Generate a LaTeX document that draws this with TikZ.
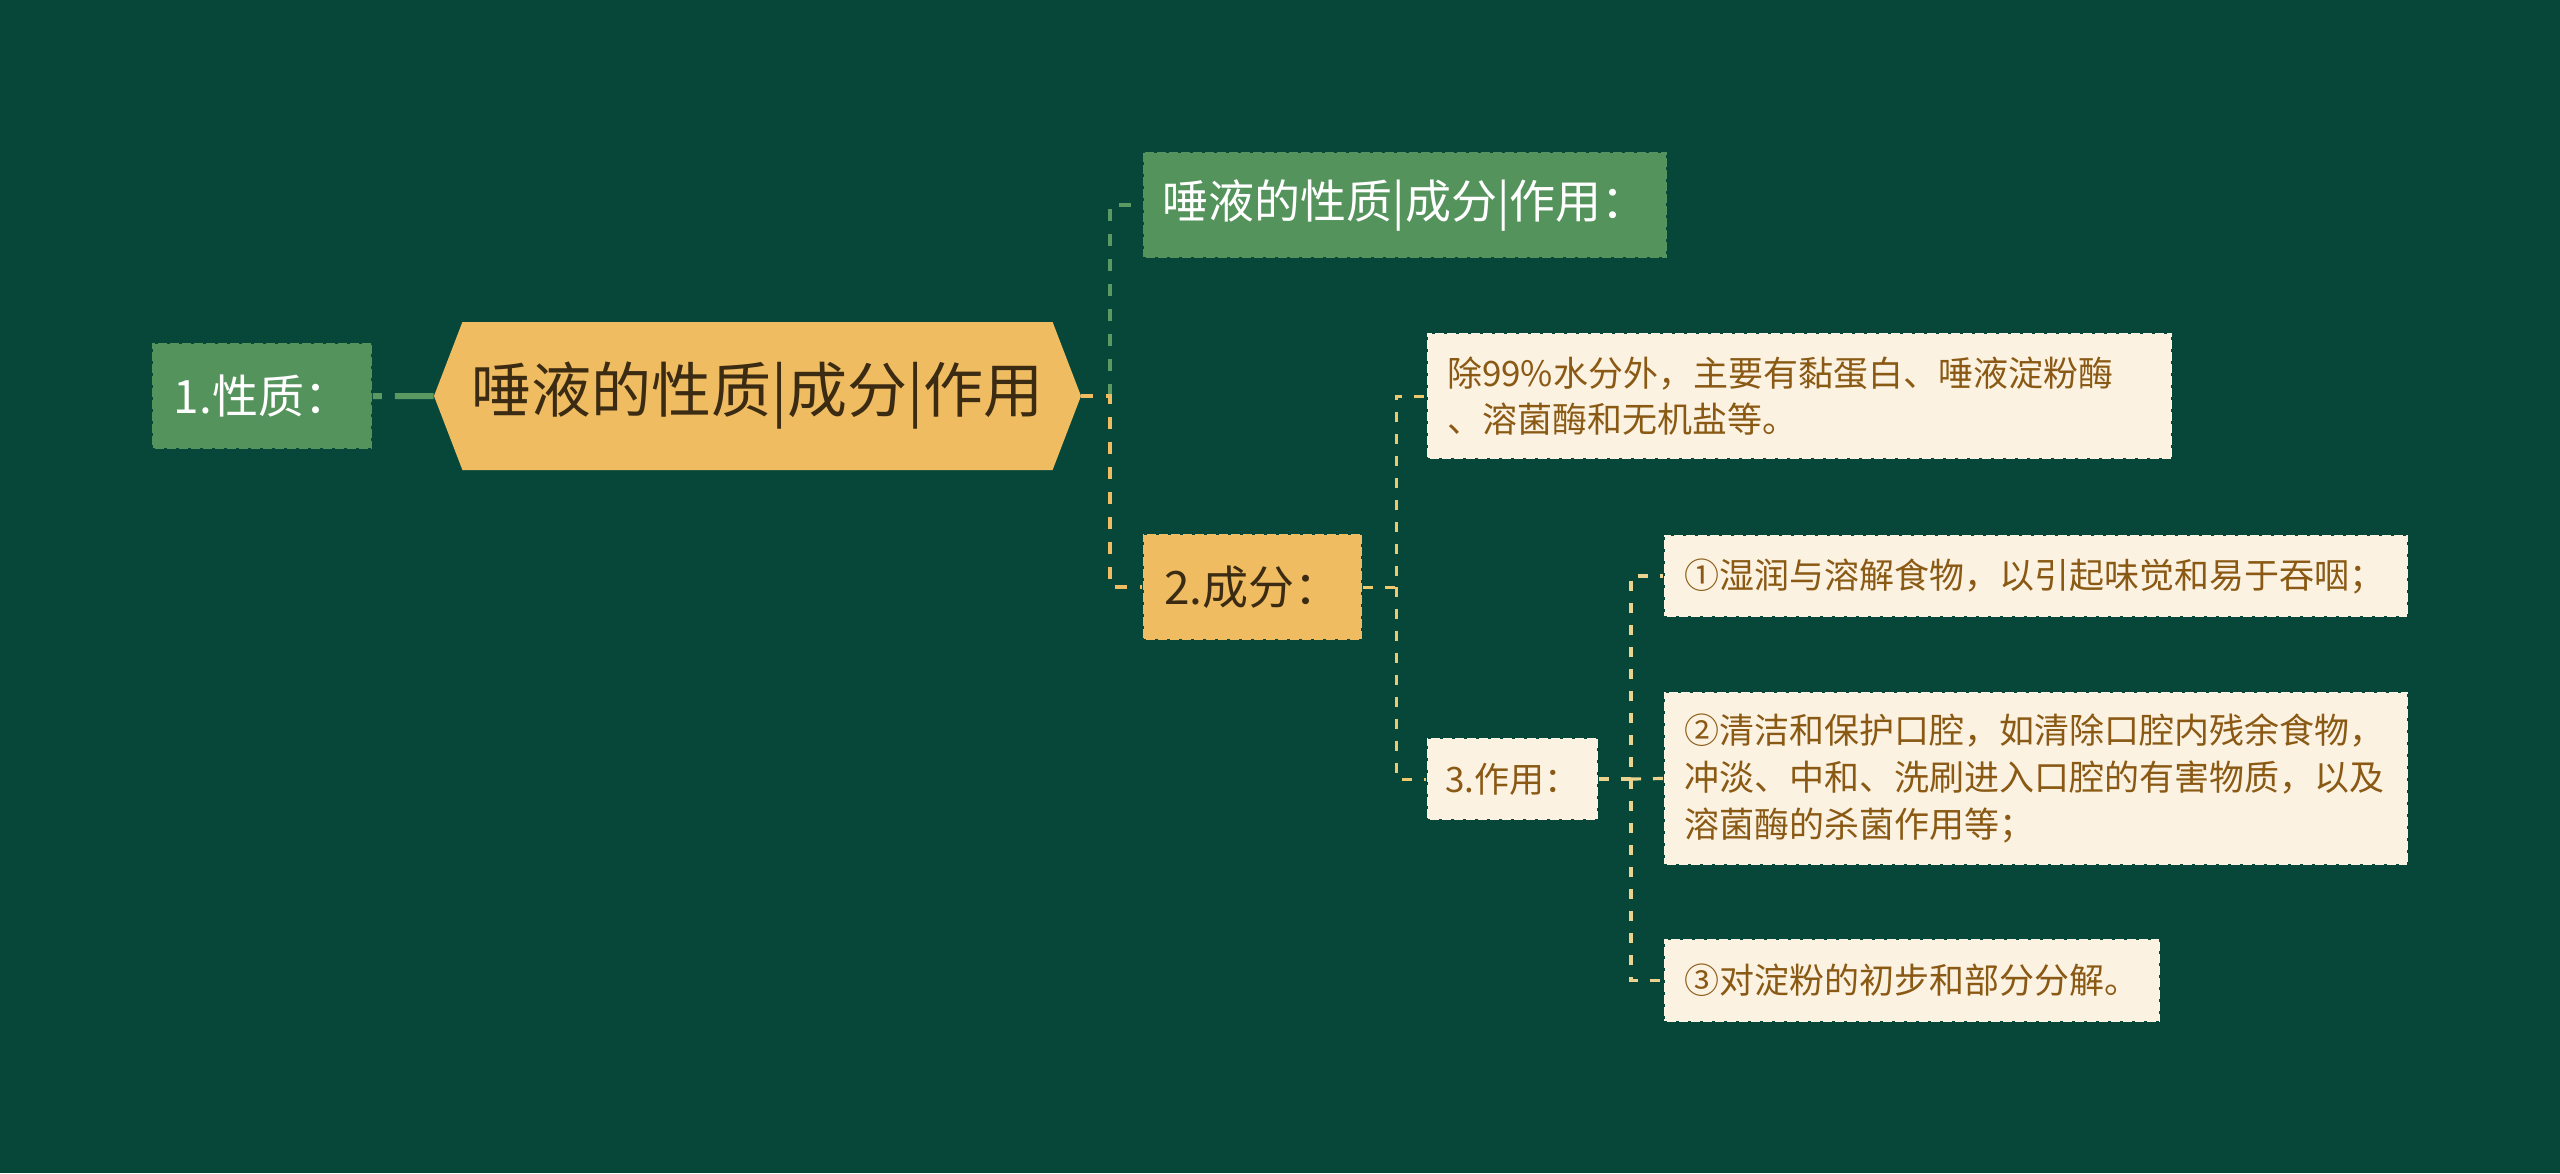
\documentclass[tikz,border=0pt]{standalone}
\usepackage{fontspec}
\newfontfamily\cjk{Noto Sans CJK SC}
\usetikzlibrary{shapes.symbols}

\definecolor{bgc}{HTML}{07473A}
\definecolor{greenc}{HTML}{55935D}
\definecolor{orangec}{HTML}{F0BC62}
\definecolor{creamc}{HTML}{FCF2E2}
\definecolor{brownc}{HTML}{8A5A15}
\definecolor{darkc}{HTML}{3B2B12}
\definecolor{glinec}{HTML}{5A9A62}
\definecolor{ylinec}{HTML}{EDC86F}
\definecolor{plinec}{HTML}{EAD38E}

\begin{document}
\begin{tikzpicture}[
    x=0.5pt, y=-0.5pt,
    edge/.style={draw=bgc, line width=0.8pt, dash pattern=on 1.5pt off 4.5pt},
    greenbox/.style={rectangle, edge, fill=greenc, text=white, inner sep=0pt,
        font=\cjk\fontsize{23}{28}\selectfont},
    orangebox/.style={rectangle, edge, fill=orangec, text=darkc, inner sep=0pt,
        font=\cjk\fontsize{23}{28}\selectfont},
    creambox/.style={rectangle, edge, fill=creamc, text=brownc, align=left,
        inner xsep=10pt, inner ysep=0pt, font=\cjk\fontsize{17.5}{23.3}\selectfont},
    hexbox/.style={shape=signal, signal to=east and west, signal pointer angle=138,
        fill=orangec, text=darkc, inner sep=0pt, font=\cjk\fontsize{30}{36}\selectfont},
    gline/.style={draw=glinec, line width=2.3pt, dash pattern=on 6pt off 6.5pt},
    oline/.style={draw=orangec, line width=2.3pt, dash pattern=on 6pt off 6.5pt},
    yline/.style={draw=ylinec, line width=1.5pt, dash pattern=on 5pt off 6pt},
    pline/.style={draw=plinec, line width=1.6pt, dash pattern=on 5pt off 6pt}
]
% Fondo
\fill[bgc] (0,0) rectangle (2560,1173);
\useasboundingbox (0,0) rectangle (2560,1173);

% Nodo central
\node[hexbox, minimum width=323.5pt, minimum height=74pt] (main) at (757.5,396) {唾液的性质|成分|作用};

% Nivel 1
\node[greenbox, minimum width=110pt, minimum height=53pt] (prop) at (262,396) {1.性质：};
\node[greenbox, minimum width=262pt, minimum height=53pt] (title) at (1405,205) {唾液的性质|成分|作用：};
\node[orangebox, minimum width=109.5pt, minimum height=53pt] (comp) at (1252.5,587) {2.成分：};

% Nivel 2
\node[creambox, text width=352.5pt, minimum height=63pt] (desc) at (1799.5,396)
    {除99\%水分外，主要有黏蛋白、唾液淀粉酶\\、溶菌酶和无机盐等。};
\node[creambox, align=center, inner xsep=0pt, minimum width=85.5pt, minimum height=41pt] (func) at (1512.5,779) {3.作用：};

% Nivel 3
\node[creambox, text width=352pt, minimum height=41pt] (fa) at (2036,576)
    {①湿润与溶解食物，以引起味觉和易于吞咽；};
\node[creambox, text width=352pt, minimum height=86.5pt] (fb) at (2036,778.5)
    {②清洁和保护口腔，如清除口腔内残余食物，\\冲淡、中和、洗刷进入口腔的有害物质，以及\\溶菌酶的杀菌作用等；};
\node[creambox, text width=228pt, minimum height=41.5pt] (fc) at (1912,980.5)
    {③对淀粉的初步和部分分解。};

% Puntos de division
\coordinate (split) at (1110,396);
\coordinate (splitb) at (1396,587);
\coordinate (splitc) at (1631,779);

% Conexiones
\draw[draw=glinec, line width=3pt, dash pattern=on 4.5pt off 6.5pt on 25pt off 6.5pt] (prop) -- (main);
\draw[gline] (split) |- (title.west);
\draw[oline] (main.east) -- (split) |- (comp.west);
\draw[yline] (comp.east) -- (splitb) |- (desc.west);
\draw[yline] (splitb) |- (func.west);
\draw[pline] (func.east) -- (splitc) |- (fa.west);
\draw[pline] (splitc) -- (fb.west);
\draw[pline] (splitc) |- (fc.west);

\end{tikzpicture}
\end{document}
